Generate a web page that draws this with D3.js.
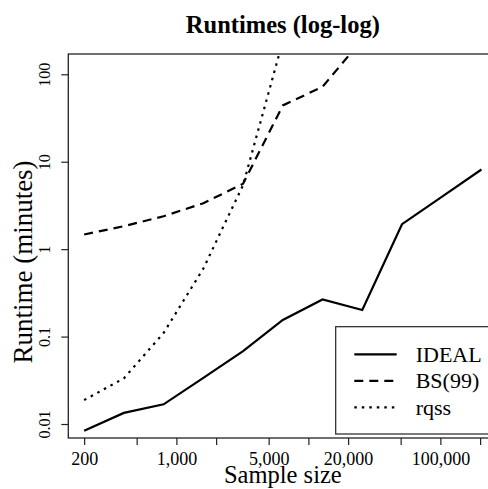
<!DOCTYPE html>
<html>
<head>
<meta charset="utf-8">
<script src="https://cdn.jsdelivr.net/npm/d3@7"></script>
<style>
  body { margin: 0; background: #fff; }
  svg { display: block; }
  svg text { font-family: "Liberation Serif", "Times New Roman", serif; }
</style>
</head>
<body>
<div id="chart"></div>
<script>
// sample sizes (doubling from 200)
const sampleSizes = [200, 400, 800, 1600, 3200, 6400, 12800, 25600, 51200, 102400, 204800];
// runtimes in minutes
const ideal = [0.0084, 0.0134, 0.0168, 0.0337, 0.068, 0.155, 0.266, 0.201, 1.93, 3.97, 8.15];
const bs99 = [1.47, 1.83, 2.38, 3.35, 5.6, 44, 72, 250];
const rqss = [0.0188, 0.0333, 0.11, 0.6, 5.4, 240];

const xTicks = [200, 500, 1000, 2000, 5000, 10000, 20000, 50000, 100000, 200000];
const xLabeled = [200, 1000, 5000, 20000, 100000];
const yTicks = [0.01, 0.1, 1, 10, 100];
const yTickLabels = ["0.01", "0.1", "1", "10", "100"];

const seriesNames = ["IDEAL", "BS(99)", "rqss"];
const seriesDash = [null, "9,6", "2.5,5"];

const serif = '"Liberation Serif", "Times New Roman", serif';
const width = 488;
const height = 489;
const plot = { left: 68.3, right: 497.4, top: 54, bottom: 438 };

const svg = d3.select("#chart")
  .append("svg")
  .attr("width", width)
  .attr("height", height);

const x = d3.scaleLog()
  .domain([Math.pow(10, 2.181), Math.pow(10, 5.432)])
  .range([plot.left, plot.right]);

const y = d3.scaleLog()
  .domain([Math.pow(10, -2.16), Math.pow(10, 2.232)])
  .range([plot.bottom, plot.top]);

svg.append("defs").append("clipPath")
  .attr("id", "plotClip")
  .append("rect")
  .attr("x", plot.left)
  .attr("y", plot.top)
  .attr("width", plot.right - plot.left)
  .attr("height", plot.bottom - plot.top);

// title
svg.append("text")
  .attr("x", (plot.left + plot.right) / 2)
  .attr("y", 33)
  .attr("text-anchor", "middle")
  .style("font-size", "24.5px")
  .style("font-weight", "bold")
  .text("Runtimes (log-log)");

// x axis
const xAxis = svg.append("g")
  .attr("transform", `translate(0,${plot.bottom})`)
  .call(d3.axisBottom(x)
    .tickValues(xTicks)
    .tickSize(7)
    .tickSizeOuter(0)
    .tickFormat(d => xLabeled.includes(d) ? d3.format(",")(d) : ""));
xAxis.select(".domain").remove();
xAxis.selectAll(".tick line").attr("stroke", "#222").attr("stroke-width", 1.2);
xAxis.selectAll(".tick text")
  .attr("y", 27)
  .attr("dy", null)
  .attr("fill", "#000")
  .style("font-family", serif)
  .style("font-size", "18px");

// y axis
const yAxis = svg.append("g")
  .attr("transform", `translate(${plot.left},0)`)
  .call(d3.axisLeft(y)
    .tickValues(yTicks)
    .tickSize(7)
    .tickSizeOuter(0)
    .tickFormat((d, i) => yTickLabels[i]));
yAxis.select(".domain").remove();
yAxis.selectAll(".tick line").attr("stroke", "#222").attr("stroke-width", 1.2);
yAxis.selectAll(".tick text")
  .attr("transform", "rotate(-90)")
  .attr("x", 0)
  .attr("y", -18)
  .attr("dy", null)
  .attr("text-anchor", "middle")
  .attr("fill", "#000")
  .style("font-family", serif)
  .style("font-size", "16px");

// plot box
svg.append("rect")
  .attr("x", plot.left)
  .attr("y", plot.top)
  .attr("width", plot.right - plot.left)
  .attr("height", plot.bottom - plot.top)
  .attr("fill", "none")
  .attr("stroke", "#222")
  .attr("stroke-width", 1.3);

// axis titles
svg.append("text")
  .attr("x", (plot.left + plot.right) / 2)
  .attr("y", 483)
  .attr("text-anchor", "middle")
  .style("font-size", "24.5px")
  .text("Sample size");

svg.append("text")
  .attr("transform", "translate(32,262) rotate(-90)")
  .attr("text-anchor", "middle")
  .style("font-size", "27px")
  .text("Runtime (minutes)");

// lines
const line = d3.line()
  .x((d, i) => x(sampleSizes[i]))
  .y(d => y(d));

const allSeries = [ideal, bs99, rqss];
svg.append("g")
  .attr("clip-path", "url(#plotClip)")
  .selectAll("path")
  .data(allSeries)
  .join("path")
  .attr("d", d => line(d))
  .attr("fill", "none")
  .attr("stroke", "#000")
  .attr("stroke-width", 2.2)
  .attr("stroke-dasharray", (d, i) => seriesDash[i]);

// legend
const legend = svg.append("g");
legend.append("rect")
  .attr("x", 335.7)
  .attr("y", 326.7)
  .attr("width", 493 - 335.7)
  .attr("height", 434 - 326.7)
  .attr("fill", "#fff")
  .attr("stroke", "#222")
  .attr("stroke-width", 1.2);

const rows = legend.selectAll("g.row")
  .data(seriesNames)
  .join("g")
  .attr("class", "row")
  .attr("transform", (d, i) => `translate(0,${354.3 + i * 26.5})`);

rows.append("line")
  .attr("x1", 354.3)
  .attr("x2", 396.7)
  .attr("stroke", "#000")
  .attr("stroke-width", 2.2)
  .attr("stroke-dasharray", (d, i) => seriesDash[i]);

rows.append("text")
  .attr("x", 415.7)
  .attr("y", 7.5)
  .style("font-size", "22px")
  .text(d => d);
</script>
</body>
</html>
